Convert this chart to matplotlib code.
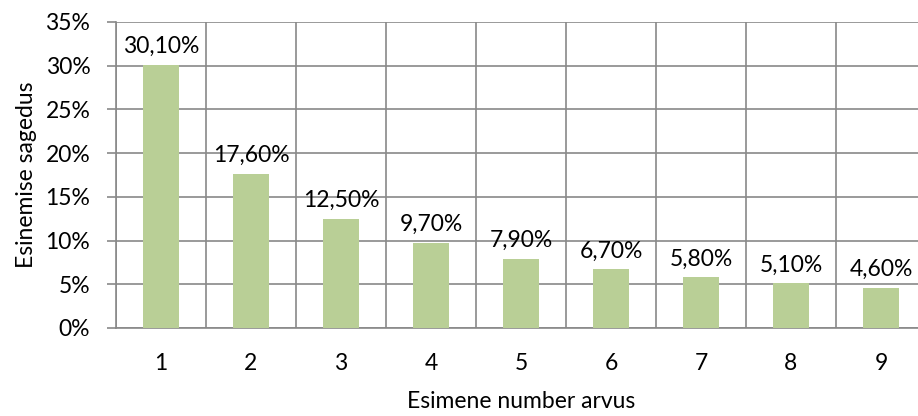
import numpy as np
import matplotlib
matplotlib.use("Agg")
import matplotlib.pyplot as plt
from matplotlib.ticker import FixedLocator, FuncFormatter

# Andmed
digits = [1, 2, 3, 4, 5, 6, 7, 8, 9]
shares = [30.1, 17.6, 12.5, 9.7, 7.9, 6.7, 5.8, 5.1, 4.6]
labels = ["30,10%", "17,60%", "12,50%", "9,70%", "7,90%",
          "6,70%", "5,80%", "5,10%", "4,60%"]

plt.rcParams['font.family'] = ['Lato', 'DejaVu Sans']
grid_col = '#898989'
fs = 16.5

fig = plt.figure(figsize=(9.18, 4.16), dpi=100)
ax = fig.add_axes([116 / 918, 88 / 416, 810 / 918, 306 / 416])

ax.bar(digits, shares, width=0.39, color='#b9cf96', zorder=3)
for d, v, lab in zip(digits, shares, labels):
    ax.text(d, v + 0.9, lab, ha='center', va='bottom', fontsize=fs, zorder=4)

ax.set_xlim(0.5, 9.5)
ax.set_ylim(0, 35)
ax.set_yticks(np.arange(0, 36, 5))
ax.yaxis.set_major_formatter(FuncFormatter(lambda v, p: f"{v:.0f}%"))
ax.set_xticks(digits)
ax.xaxis.set_minor_locator(FixedLocator(np.arange(0.5, 10, 1)))

ax.grid(True, axis='y', which='major', color=grid_col, lw=1.2, zorder=0)
ax.grid(True, axis='x', which='minor', color=grid_col, lw=1.2, zorder=0)

for s in ['top', 'right']:
    ax.spines[s].set_visible(False)
for s in ['left', 'bottom']:
    ax.spines[s].set_color(grid_col)
    ax.spines[s].set_linewidth(1.2)

ax.tick_params(axis='y', length=6.5, color=grid_col, width=1.2, pad=12, labelsize=fs)
ax.tick_params(axis='x', which='both', length=0, pad=18, labelsize=fs)

ax.set_ylabel("Esinemise sagedus", fontsize=fs, labelpad=6)
ax.set_xlabel("Esimene number arvus", fontsize=fs, labelpad=12)

fig.savefig("out.png", dpi=100)
